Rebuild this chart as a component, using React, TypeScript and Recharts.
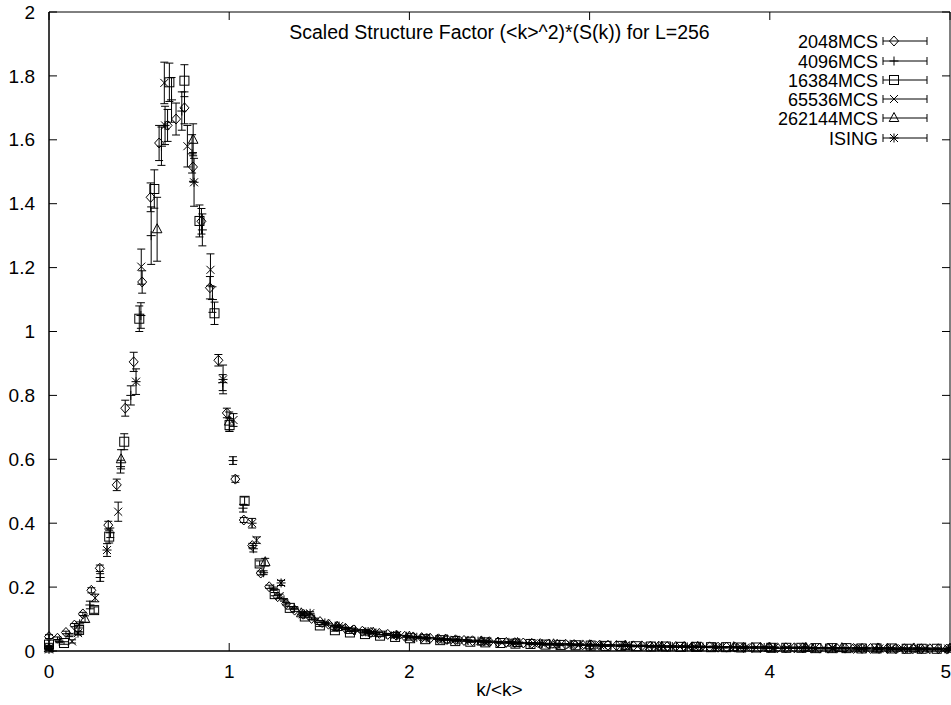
import React from 'react';
import { ScatterChart, Scatter, XAxis, YAxis, ErrorBar, ReferenceArea, Legend } from 'recharts';

type Pt = [number, number, number]; // [k/<k>, value, error]

const X_TICKS = [0, 1, 2, 3, 4, 5];
const Y_TICKS = [0, 0.2, 0.4, 0.6, 0.8, 1, 1.2, 1.4, 1.6, 1.8, 2];
const TITLE = 'Scaled Structure Factor (<k>^2)*(S(k)) for L=256';
const X_LABEL = 'k/<k>';
const SERIES_NAMES = ['2048MCS', '4096MCS', '16384MCS', '65536MCS', '262144MCS', 'ISING'];

const S2048: Pt[] = [
  [0, 0.045, 0.006], [0.047, 0.04, 0.004], [0.094, 0.058, 0.004], [0.141, 0.081, 0.005],
  [0.188, 0.116, 0.005], [0.235, 0.19, 0.008], [0.282, 0.259, 0.01], [0.329, 0.394, 0.012],
  [0.376, 0.52, 0.018], [0.423, 0.76, 0.025], [0.47, 0.905, 0.03], [0.517, 1.155, 0.035],
  [0.564, 1.42, 0.045], [0.611, 1.59, 0.055], [0.658, 1.645, 0.05], [0.705, 1.665, 0.05],
  [0.752, 1.7, 0.05], [0.799, 1.515, 0.045], [0.846, 1.345, 0.04], [0.893, 1.137, 0.035],
  [0.94, 0.91, 0.018], [0.987, 0.745, 0.015], [1.034, 0.538, 0.01], [1.081, 0.41, 0.008],
  [1.128, 0.33, 0.007], [1.175, 0.244, 0.006], [1.222, 0.201, 0.005], [1.269, 0.17, 0.005],
  [1.316, 0.148, 0.004], [1.363, 0.128, 0.004], [1.41, 0.115, 0.004], [1.457, 0.102, 0.004],
  [1.504, 0.092, 0.003], [1.551, 0.084, 0.003], [1.598, 0.077, 0.003], [1.645, 0.071, 0.003],
  [1.692, 0.066, 0.003], [1.739, 0.062, 0.003], [1.786, 0.058, 0.003], [1.833, 0.055, 0.003],
  [1.88, 0.052, 0.003], [1.927, 0.049, 0.003], [1.974, 0.046, 0.003], [2.021, 0.044, 0.002],
  [2.068, 0.042, 0.002], [2.115, 0.04, 0.002], [2.162, 0.038, 0.002], [2.209, 0.036, 0.002],
  [2.256, 0.035, 0.002], [2.303, 0.033, 0.002], [2.35, 0.032, 0.002], [2.397, 0.03, 0.002],
  [2.444, 0.029, 0.002], [2.491, 0.028, 0.002], [2.538, 0.027, 0.002], [2.585, 0.026, 0.002],
  [2.632, 0.025, 0.002], [2.679, 0.024, 0.002], [2.726, 0.023, 0.002], [2.773, 0.022, 0.002],
  [2.82, 0.021, 0.002], [2.867, 0.021, 0.002], [2.914, 0.02, 0.002], [2.961, 0.019, 0.002],
  [3.008, 0.019, 0.002], [3.055, 0.018, 0.002], [3.102, 0.018, 0.002], [3.149, 0.017, 0.002],
  [3.196, 0.017, 0.002], [3.243, 0.016, 0.002], [3.29, 0.016, 0.002], [3.337, 0.015, 0.002],
  [3.384, 0.015, 0.002], [3.431, 0.014, 0.002], [3.478, 0.014, 0.002], [3.525, 0.014, 0.002],
  [3.572, 0.013, 0.002], [3.619, 0.013, 0.002], [3.666, 0.013, 0.002], [3.713, 0.012, 0.002],
  [3.76, 0.012, 0.002], [3.807, 0.012, 0.002], [3.854, 0.011, 0.002], [3.901, 0.011, 0.002],
  [3.948, 0.011, 0.002], [3.995, 0.011, 0.002], [4.042, 0.01, 0.002], [4.089, 0.01, 0.002],
  [4.136, 0.01, 0.002], [4.183, 0.01, 0.002], [4.23, 0.009, 0.002], [4.277, 0.009, 0.002],
  [4.324, 0.009, 0.002], [4.371, 0.009, 0.002], [4.418, 0.009, 0.002], [4.465, 0.008, 0.002],
  [4.512, 0.008, 0.002], [4.559, 0.008, 0.002], [4.606, 0.008, 0.002], [4.653, 0.008, 0.002],
  [4.7, 0.007, 0.002], [4.747, 0.007, 0.002], [4.794, 0.007, 0.002], [4.841, 0.007, 0.002],
  [4.888, 0.007, 0.002], [4.935, 0.007, 0.002], [4.982, 0.006, 0.002],
];

const S4096: Pt[] = [
  [0, 0.012, 0.004], [0.057, 0.03, 0.004], [0.113, 0.05, 0.005], [0.17, 0.085, 0.006],
  [0.227, 0.144, 0.012], [0.284, 0.23, 0.012], [0.34, 0.37, 0.015], [0.397, 0.577, 0.02],
  [0.454, 0.8, 0.03], [0.51, 1.05, 0.04], [0.567, 1.3, 0.09], [0.624, 1.58, 0.06],
  [0.68, 1.725, 0.07], [0.737, 1.69, 0.06], [0.794, 1.556, 0.06], [0.851, 1.318, 0.05],
  [0.907, 1.1, 0.04], [0.964, 0.84, 0.025], [1.021, 0.596, 0.012], [1.077, 0.447, 0.012],
  [1.134, 0.32, 0.01], [1.191, 0.245, 0.006], [1.247, 0.195, 0.005], [1.304, 0.16, 0.004],
  [1.361, 0.135, 0.004], [1.418, 0.115, 0.004], [1.474, 0.1, 0.003], [1.531, 0.088, 0.003],
  [1.588, 0.078, 0.003], [1.644, 0.071, 0.003], [1.701, 0.065, 0.003], [1.758, 0.06, 0.003],
  [1.814, 0.056, 0.003], [1.871, 0.052, 0.003], [1.928, 0.049, 0.003], [1.985, 0.046, 0.002],
  [2.041, 0.043, 0.002], [2.098, 0.041, 0.002], [2.155, 0.039, 0.002], [2.211, 0.036, 0.002],
  [2.268, 0.034, 0.002], [2.325, 0.033, 0.002], [2.381, 0.031, 0.002], [2.438, 0.029, 0.002],
  [2.495, 0.028, 0.002], [2.552, 0.027, 0.002], [2.608, 0.026, 0.002], [2.665, 0.024, 0.002],
  [2.722, 0.023, 0.002], [2.778, 0.022, 0.002], [2.835, 0.021, 0.002], [2.892, 0.021, 0.002],
  [2.948, 0.02, 0.002], [3.005, 0.019, 0.002], [3.062, 0.018, 0.002], [3.119, 0.018, 0.002],
  [3.175, 0.017, 0.002], [3.232, 0.016, 0.002], [3.289, 0.016, 0.002], [3.345, 0.015, 0.002],
  [3.402, 0.015, 0.002], [3.459, 0.014, 0.002], [3.515, 0.014, 0.002], [3.572, 0.013, 0.002],
  [3.629, 0.013, 0.002], [3.686, 0.013, 0.002], [3.742, 0.012, 0.002], [3.799, 0.012, 0.002],
  [3.856, 0.011, 0.002], [3.912, 0.011, 0.002], [3.969, 0.011, 0.002], [4.026, 0.01, 0.002],
  [4.082, 0.01, 0.002], [4.139, 0.01, 0.002], [4.196, 0.01, 0.002], [4.253, 0.009, 0.002],
  [4.309, 0.009, 0.002], [4.366, 0.009, 0.002], [4.423, 0.009, 0.002], [4.479, 0.008, 0.002],
  [4.536, 0.008, 0.002], [4.593, 0.008, 0.002], [4.649, 0.008, 0.002], [4.706, 0.007, 0.002],
  [4.763, 0.007, 0.002], [4.82, 0.007, 0.002], [4.876, 0.007, 0.002], [4.933, 0.007, 0.002],
  [4.99, 0.006, 0.002],
];

const S16384: Pt[] = [
  [0, 0.02, 0.004], [0.0835, 0.025, 0.004], [0.167, 0.066, 0.006], [0.2505, 0.128, 0.01],
  [0.334, 0.358, 0.02], [0.4175, 0.655, 0.025], [0.501, 1.04, 0.04], [0.5845, 1.446, 0.06],
  [0.668, 1.78, 0.06], [0.7515, 1.785, 0.05], [0.835, 1.346, 0.05], [0.9185, 1.057, 0.035],
  [1.002, 0.707, 0.02], [1.0855, 0.47, 0.012], [1.169, 0.274, 0.008], [1.2525, 0.178, 0.005],
  [1.336, 0.135, 0.004], [1.4195, 0.108, 0.004], [1.503, 0.08, 0.003], [1.5865, 0.065, 0.003],
  [1.67, 0.058, 0.003], [1.7535, 0.053, 0.003], [1.837, 0.048, 0.003], [1.9205, 0.044, 0.002],
  [2.004, 0.04, 0.002], [2.0875, 0.037, 0.002], [2.171, 0.034, 0.002], [2.2545, 0.031, 0.002],
  [2.338, 0.029, 0.002], [2.4215, 0.027, 0.002], [2.505, 0.025, 0.002], [2.5885, 0.023, 0.002],
  [2.672, 0.022, 0.002], [2.7555, 0.02, 0.002], [2.839, 0.019, 0.002], [2.9225, 0.018, 0.002],
  [3.006, 0.017, 0.002], [3.0895, 0.016, 0.002], [3.173, 0.016, 0.002], [3.2565, 0.015, 0.002],
  [3.34, 0.014, 0.002], [3.4235, 0.014, 0.002], [3.507, 0.013, 0.002], [3.5905, 0.013, 0.002],
  [3.674, 0.012, 0.002], [3.7575, 0.012, 0.002], [3.841, 0.011, 0.002], [3.9245, 0.011, 0.002],
  [4.008, 0.01, 0.002], [4.0915, 0.01, 0.002], [4.175, 0.01, 0.002], [4.2585, 0.009, 0.002],
  [4.342, 0.009, 0.002], [4.4255, 0.009, 0.002], [4.509, 0.008, 0.002], [4.5925, 0.008, 0.002],
  [4.676, 0.008, 0.002], [4.7595, 0.007, 0.002], [4.843, 0.007, 0.002], [4.9265, 0.007, 0.002],
];

const S65536: Pt[] = [
  [0, 0.01, 0.004], [0.128, 0.03, 0.005], [0.256, 0.166, 0.012], [0.384, 0.436, 0.03],
  [0.512, 1.203, 0.055], [0.64, 1.778, 0.065], [0.768, 1.58, 0.065], [0.896, 1.193, 0.05],
  [1.024, 0.723, 0.02], [1.152, 0.347, 0.01], [1.28, 0.172, 0.006], [1.408, 0.115, 0.004],
  [1.536, 0.085, 0.003], [1.664, 0.068, 0.003], [1.792, 0.057, 0.003], [1.92, 0.049, 0.002],
  [2.048, 0.043, 0.002], [2.176, 0.037, 0.002], [2.304, 0.033, 0.002], [2.432, 0.029, 0.002],
  [2.56, 0.026, 0.002], [2.688, 0.024, 0.002], [2.816, 0.021, 0.002], [2.944, 0.02, 0.002],
  [3.072, 0.018, 0.002], [3.2, 0.017, 0.002], [3.328, 0.015, 0.002], [3.456, 0.014, 0.002],
  [3.584, 0.013, 0.002], [3.712, 0.012, 0.002], [3.84, 0.012, 0.002], [3.968, 0.011, 0.002],
  [4.096, 0.01, 0.002], [4.224, 0.01, 0.002], [4.352, 0.009, 0.002], [4.48, 0.009, 0.002],
  [4.608, 0.008, 0.002], [4.736, 0.008, 0.002], [4.864, 0.007, 0.002], [4.992, 0.007, 0.002],
];

const S262144: Pt[] = [
  [0, 0.008, 0.004], [0.2, 0.1, 0.01], [0.4, 0.6, 0.03], [0.6, 1.32, 0.1],
  [0.8, 1.6, 0.05], [1.0, 0.718, 0.03], [1.2, 0.278, 0.012], [1.4, 0.118, 0.005],
  [1.6, 0.075, 0.003], [1.8, 0.057, 0.003], [2.0, 0.045, 0.002], [2.2, 0.036, 0.002],
  [2.4, 0.03, 0.002], [2.6, 0.025, 0.002], [2.8, 0.021, 0.002], [3.0, 0.018, 0.002],
  [3.2, 0.016, 0.002], [3.4, 0.014, 0.002], [3.6, 0.013, 0.002], [3.8, 0.012, 0.002],
  [4.0, 0.01, 0.002], [4.2, 0.01, 0.002], [4.4, 0.009, 0.002], [4.6, 0.008, 0.002],
  [4.8, 0.008, 0.002], [5.0, 0.007, 0.002],
];

const SISING: Pt[] = [
  [0, 0.005, 0.004], [0.161, 0.056, 0.006], [0.322, 0.316, 0.02], [0.483, 0.843, 0.04],
  [0.644, 1.645, 0.06], [0.805, 1.467, 0.075], [0.966, 0.85, 0.045], [1.127, 0.4, 0.015],
  [1.288, 0.213, 0.008], [1.449, 0.118, 0.005], [1.61, 0.078, 0.003], [1.771, 0.061, 0.003],
  [1.932, 0.05, 0.002], [2.093, 0.041, 0.002], [2.254, 0.035, 0.002], [2.415, 0.03, 0.002],
  [2.576, 0.026, 0.002], [2.737, 0.023, 0.002], [2.898, 0.02, 0.002], [3.059, 0.018, 0.002],
  [3.22, 0.016, 0.002], [3.381, 0.015, 0.002], [3.542, 0.013, 0.002], [3.703, 0.012, 0.002],
  [3.864, 0.011, 0.002], [4.025, 0.01, 0.002], [4.186, 0.01, 0.002], [4.347, 0.009, 0.002],
  [4.508, 0.008, 0.002], [4.669, 0.008, 0.002], [4.83, 0.007, 0.002], [4.991, 0.007, 0.002],
];

const FONT = "'Liberation Sans', Arial, Helvetica, sans-serif";
const INK = '#000';

type Kind = 'diamond' | 'plus' | 'square' | 'cross' | 'triangle' | 'star';

const SERIES: { name: string; kind: Kind; pts: Pt[] }[] = [
  { name: SERIES_NAMES[0], kind: 'diamond', pts: S2048 },
  { name: SERIES_NAMES[1], kind: 'plus', pts: S4096 },
  { name: SERIES_NAMES[2], kind: 'square', pts: S16384 },
  { name: SERIES_NAMES[3], kind: 'cross', pts: S65536 },
  { name: SERIES_NAMES[4], kind: 'triangle', pts: S262144 },
  { name: SERIES_NAMES[5], kind: 'star', pts: SISING },
];

function Marker({ kind, cx, cy }: { kind: Kind; cx: number; cy: number }) {
  const common = { fill: 'none', stroke: INK, strokeWidth: 1 };
  switch (kind) {
    case 'diamond':
      return <polygon {...common} points={`${cx},${cy - 5} ${cx + 4.5},${cy} ${cx},${cy + 5} ${cx - 4.5},${cy}`} />;
    case 'plus':
      return <path {...common} d={`M${cx - 4.5},${cy}H${cx + 4.5}M${cx},${cy - 4.5}V${cy + 4.5}`} />;
    case 'square':
      return <rect {...common} x={cx - 4.5} y={cy - 4.5} width={9} height={9} />;
    case 'cross':
      return <path {...common} d={`M${cx - 4},${cy - 4}L${cx + 4},${cy + 4}M${cx - 4},${cy + 4}L${cx + 4},${cy - 4}`} />;
    case 'triangle':
      return <polygon {...common} points={`${cx},${cy - 5.5} ${cx + 4.8},${cy + 3.5} ${cx - 4.8},${cy + 3.5}`} />;
    case 'star':
    default:
      return (
        <path
          {...common}
          d={`M${cx - 4.5},${cy}H${cx + 4.5}M${cx},${cy - 4.5}V${cy + 4.5}M${cx - 4},${cy - 4}L${cx + 4},${cy + 4}M${cx - 4},${cy + 4}L${cx + 4},${cy - 4}`}
        />
      );
  }
}

const PLOT_TOP = 12;
const PLOT_BOTTOM = 651;
const PLOT_LEFT = 49;
const PLOT_RIGHT = 950;
const TICK = 8;

function XTick(props: any) {
  const { x, payload } = props;
  const atRightEdge = x > PLOT_RIGHT - 4;
  return (
    <g>
      <line x1={x} x2={x} y1={PLOT_BOTTOM} y2={PLOT_BOTTOM - TICK} stroke={INK} />
      <line x1={x} x2={x} y1={PLOT_TOP} y2={PLOT_TOP + TICK} stroke={INK} />
      <text
        x={atRightEdge ? 951 : x}
        y={678}
        textAnchor={atRightEdge ? 'end' : 'middle'}
        fontSize={19}
        fontFamily={FONT}
        fill={INK}
      >
        {String(payload.value)}
      </text>
    </g>
  );
}

function YTick(props: any) {
  const { y, payload } = props;
  const v = Math.round(payload.value * 10) / 10;
  return (
    <g>
      <line x1={PLOT_LEFT} x2={PLOT_LEFT + TICK} y1={y} y2={y} stroke={INK} />
      <line x1={PLOT_RIGHT} x2={PLOT_RIGHT - TICK} y1={y} y2={y} stroke={INK} />
      <text x={35} y={y} dy="0.35em" textAnchor="end" fontSize={19} fontFamily={FONT} fill={INK}>
        {String(v)}
      </text>
    </g>
  );
}

function LegendBox() {
  const rowY = [13, 33, 52, 71, 90, 110];
  return (
    <svg width={240} height={125} style={{ display: 'block', overflow: 'visible' }}>
      {SERIES.map((s, i) => {
        const cy = rowY[i];
        return (
          <g key={s.name}>
            <text x={178} y={cy + 6.5} textAnchor="end" fontSize={18} fontFamily={FONT} fill={INK}>
              {s.name}
            </text>
            <line x1={183} x2={227} y1={cy} y2={cy} stroke={INK} />
            <line x1={183} x2={183} y1={cy - 4} y2={cy + 4} stroke={INK} />
            <line x1={227} x2={227} y1={cy - 4} y2={cy + 4} stroke={INK} />
            <Marker kind={s.kind} cx={194} cy={cy} />
          </g>
        );
      })}
    </svg>
  );
}

export default function App() {
  return (
    <div style={{ position: 'absolute', left: 0, top: 0, width: 951, height: 705, background: '#fff' }}>
      <ScatterChart width={951} height={705} margin={{ top: 12, right: 1, bottom: 53, left: 48 }}>
        <XAxis
          type="number"
          dataKey="x"
          domain={[0, 5]}
          ticks={X_TICKS}
          height={1}
          tickLine={false}
          axisLine={{ stroke: INK }}
          tick={<XTick />}
          interval={0}
          label={{ value: X_LABEL, position: 'bottom', offset: 31, fontSize: 19, fill: INK, fontFamily: FONT }}
        />
        <YAxis
          type="number"
          dataKey="y"
          domain={[0, 2]}
          ticks={Y_TICKS}
          width={1}
          tickLine={false}
          axisLine={{ stroke: INK }}
          tick={<YTick />}
          interval={0}
        />
        <ReferenceArea
          x1={0}
          x2={5}
          y1={0}
          y2={2}
          fill="none"
          fillOpacity={0}
          stroke={INK}
          strokeWidth={1}
          label={{ value: TITLE, position: 'insideTop', offset: 13, fontSize: 19.5, fill: INK, fontFamily: FONT }}
        />
        {SERIES.map((s) => (
          <Scatter
            key={s.name}
            name={s.name}
            data={s.pts.map(([x, y, e]) => ({ x, y, e }))}
            isAnimationActive={false}
            shape={(p: any) => <Marker kind={s.kind} cx={p.cx} cy={p.cy} />}
          >
            <ErrorBar dataKey="e" direction="y" width={4} stroke={INK} strokeWidth={1} />
          </Scatter>
        ))}
        <Legend
          layout="vertical"
          align="center"
          verticalAlign="middle"
          wrapperStyle={{ position: 'absolute', left: 700, top: 28, width: 240, height: 125 }}
          content={() => <LegendBox />}
        />
      </ScatterChart>
    </div>
  );
}
